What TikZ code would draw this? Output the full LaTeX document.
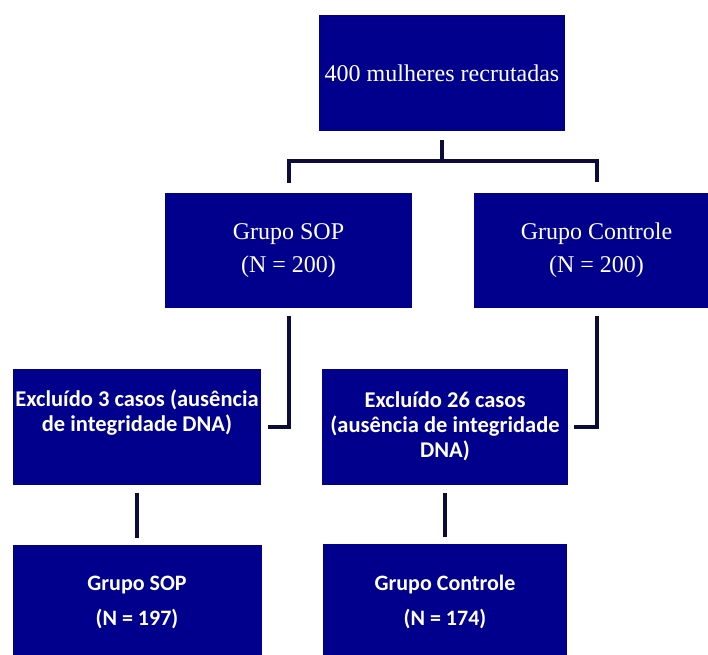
\documentclass[tikz,border=0pt]{standalone}
\usepackage{fontspec}
\setmainfont{Liberation Serif}
\newfontfamily\calfont{Carlito}
\usetikzlibrary{positioning}

\definecolor{boxblue}{RGB}{0,0,140}
\definecolor{linenavy}{RGB}{12,12,60}

\tikzset{
	bluebox/.style = {fill=boxblue, text=white, align=center, inner sep=0pt,
		minimum height=115pt},
	serifbox/.style = {bluebox, font=\fontsize{24}{33}\selectfont},
	exclbox/.style = {bluebox, font=\calfont\bfseries\fontsize{22.5}{25}\selectfont},
	finalbox/.style = {bluebox, font=\calfont\bfseries\fontsize{22}{35}\selectfont},
	link/.style = {draw=linenavy, line width=4pt}
}

\begin{document}
\begin{tikzpicture}[x=1pt, y=-1pt]
	\clip (0,0) rectangle (708,654);
	\fill[white] (0,0) rectangle (708,654);

	% recrutamento
	\node[serifbox, minimum width=246pt, minimum height=116pt] (total) at (442,73) {400 mulheres recrutadas};
	\node[serifbox, minimum width=247pt] (sop) at (288.5,250.5) {Grupo SOP\\(N = 200)};
	\node[serifbox, minimum width=245pt] (controle) at (596.5,250) {Grupo Controle\\(N = 200)};

	% exclusoes
	\node[exclbox, minimum width=248pt, minimum height=116pt] (excl1) at (137,427) {Excluído 3 casos (ausência\\de integridade DNA)\\\strut};
	\node[exclbox, minimum width=246pt, minimum height=116pt] (excl2) at (445,426.5) {Excluído 26 casos\\(ausência de integridade\\DNA)};

	% grupos finais
	\node[finalbox, minimum width=249pt] (final1) at (137,602.5) {Grupo SOP\\(N = 197)};
	\node[finalbox, minimum width=244pt] (final2) at (445,601.5) {Grupo Controle\\(N = 174)};

	% ligacoes
	\coordinate (split) at (442,161);
	\draw[link] ([yshift=-9pt]total.south) -- (split);
	\draw[link] ([yshift=10pt]sop.north) |- (split) -| ([yshift=10pt]controle.north);
	\draw[link] ([yshift=-8pt]sop.south) |- ([xshift=7pt]excl1.east);
	\draw[link] ([yshift=-8pt]controle.south) |- ([xshift=6pt]excl2.east);
	\draw[link] ([yshift=-8pt]excl1.south) -- ([yshift=7pt]final1.north);
	\draw[link] ([yshift=-8pt]excl2.south) -- ([yshift=7pt]final2.north);
\end{tikzpicture}
\end{document}
